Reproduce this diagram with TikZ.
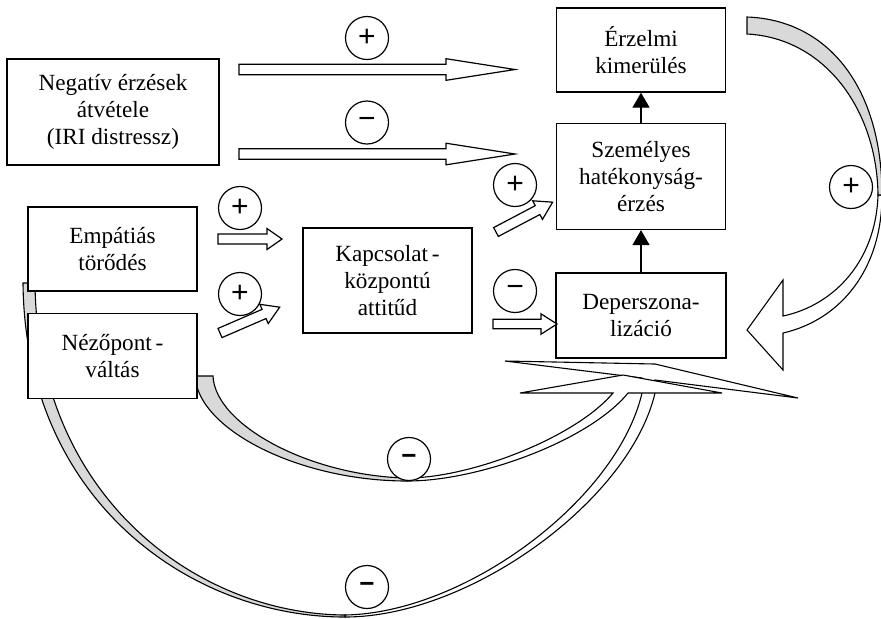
\documentclass[tikz,border=0pt]{standalone}
\usepackage{fontspec}
\setmainfont{Liberation Serif}
\newfontfamily\jelfont{Liberation Sans}
\usetikzlibrary{positioning,arrows.meta}
\definecolor{arnyek}{RGB}{217,217,217}

% vastag nyil: farok, szog, hossz, fej hossza, szar fele
\newcommand{\tompa}[5]{%
  \begin{scope}[shift={(#1)},rotate=#2]
    \draw[blokk] (0,-#5) -- (#3-#4,-#5) -- (#3-#4,-#5-5.5) -- (#3,0)
      -- (#3-#4,#5+5.5) -- (#3-#4,#5) -- (0,#5) -- cycle;
  \end{scope}}

\begin{document}
\begin{tikzpicture}
            [
                x=0.5pt, y=-0.5pt,
                doboz/.style={rectangle, draw, fill=white, line width=0.7pt, align=center, minimum width=84.5pt, font=\fontsize{11.6}{13.5}\selectfont},
                jel/.style={circle, draw, fill=white, line width=0.6pt, minimum size=21.5pt, inner sep=0pt, font=\jelfont\fontsize{15}{15}\selectfont},
                blokk/.style={draw, fill=white, line width=0.6pt, line join=miter},
                szalag/.style={draw, fill=white, line width=0.55pt},
                hata/.style={szalag, fill=arnyek},
                kis/.style={-{Triangle[length=7.5pt,width=8.5pt]}, line width=0.7pt},
            ]
            \useasboundingbox (0,0) rectangle (881,618);
            %obs: az ivek kerulnek alulra
            % jobb oldali iv
            \draw[szalag] (878,195) .. controls (876,260) and (835,305) .. (783,316)
                -- (783,280) -- (747,330) -- (783,370) -- (783,333)
                .. controls (840,320) and (882,270) .. (882,195) -- cycle;
            \draw[hata] (747,17) .. controls (830,20) and (882,90) .. (882,195)
                -- (878,195) .. controls (877,110) and (825,38) .. (747,34) -- cycle;
            % kulso also iv
            \draw[szalag] (345,615) .. controls (465,613) and (617,500) .. (642,393)
                -- (642,378) -- (505,361) -- (655,364) -- (798,398) -- (655,380) -- (655,393)
                .. controls (630,500) and (470,617) .. (345,617) -- cycle;
            \draw[hata] (23,283) .. controls (25,500) and (190,617) .. (345,617)
                -- (345,615) .. controls (195,614) and (37,495) .. (35,283) -- cycle;
            % belso also iv
            \draw[szalag] (407,478) .. controls (470,478) and (575,438) .. (613,393)
                -- (520,393) -- (623,375) -- (722,393) -- (628,393)
                .. controls (590,440) and (480,481) .. (407,481) -- cycle;
            \draw[hata] (195,376) .. controls (198,430) and (300,481) .. (407,481)
                -- (407,478) .. controls (310,476) and (215,425) .. (213,376) -- cycle;

            \node[doboz, minimum width=106pt, minimum height=53pt] (neg) at (113,112) {Negatív érzések\\átvétele\\(IRI distressz)};
            \node[doboz, minimum height=42pt] (erz) at (641,50) {Érzelmi\\kimerülés};
            \node[doboz, minimum height=53pt] (szem) [below=15pt of erz] {Személyes\\hatékonyság-\\érzés};
            \node[doboz, minimum width=85pt, minimum height=42.5pt] (dep) [below=21pt of szem] {Deperszona-\\lizáció};
            \node[doboz, minimum height=42pt] (emp) at (112.5,249) {Empátiás\\törődés};
            \node[doboz, minimum height=42.5pt] (nez) [below=10.5pt of emp] {Nézőpont\,-\\váltás};
            \node[doboz, minimum height=52.5pt] (kap) at (387.5,280.5) {Kapcsolat\,-\\központú\\attitűd};

            \draw[kis] (szem) -- (erz);
            \draw[kis] (dep) -- (szem);

            \coordinate (f1) at (239,69.5);
            \coordinate (f2) at (239,154);
            \coordinate (f3) at (218,239);
            \coordinate (f4) at (220,333);
            \coordinate (f5) at (496,232);
            \coordinate (f6) at (493,324);
            \tompa{f1}{0}{276}{69}{5.3}
            \tompa{f2}{0}{276}{69}{5.3}
            \tompa{f3}{0}{64}{15}{5}
            \tompa{f4}{23.4}{65}{17}{5}
            \tompa{f5}{27.8}{64}{17}{5}
            \tompa{f6}{0}{64}{16}{4.7}

            \node[jel] (j1) at (367,38) {+};
            \node[jel] (j2) at (367,122.5) {−};
            \node[jel] (j3) at (240,208) {+};
            \node[jel] (j4) at (240,294) {+};
            \node[jel] (j5) at (515,185) {+};
            \node[jel] (j6) at (515,291) {−};
            \node[jel] (j7) at (851,187) {+};
            \node[jel, font=\jelfont\bfseries\fontsize{13}{13}\selectfont] (j8) at (409,459) {−};
            \node[jel, font=\jelfont\bfseries\fontsize{13}{13}\selectfont] (j9) at (367,587) {−};
        \end{tikzpicture}
\end{document}
